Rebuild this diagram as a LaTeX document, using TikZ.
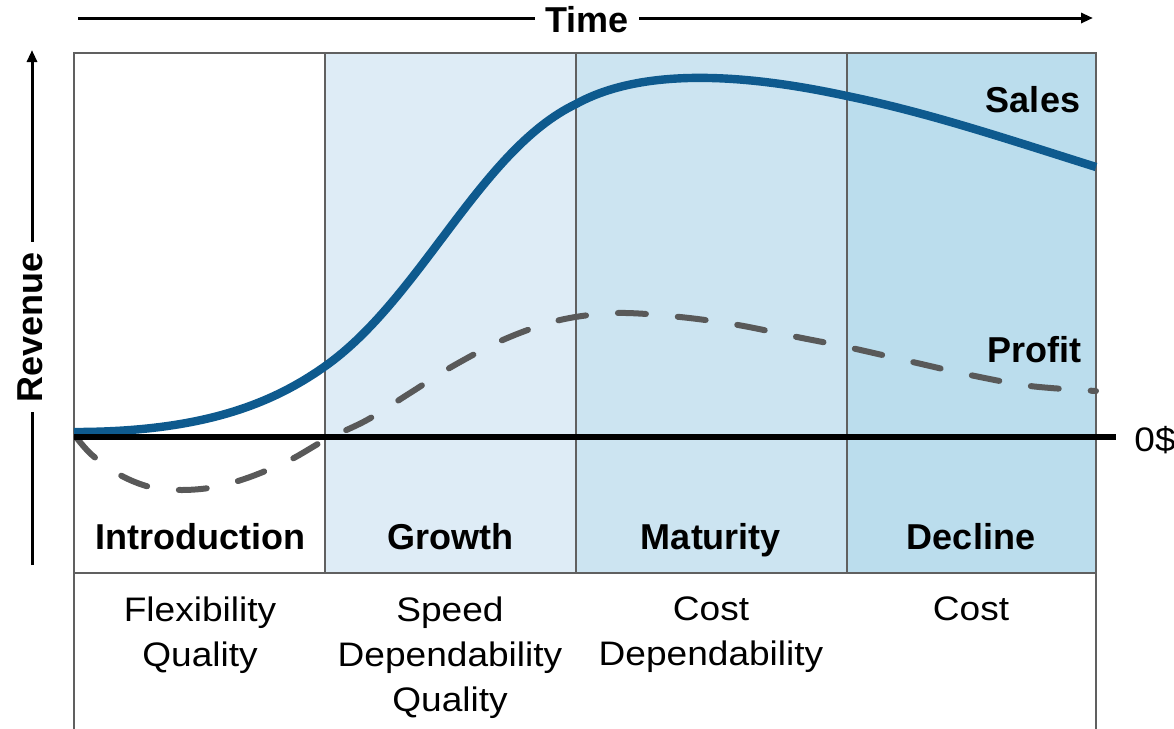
\documentclass[tikz,border=0pt]{standalone}
\usepackage{fontspec}
\setmainfont{Liberation Sans}
\newfontfamily\widesans[FakeStretch=1.09]{Liberation Sans}
\usetikzlibrary{arrows.meta}
\definecolor{salesblue}{RGB}{14,90,142}
\definecolor{profitgray}{RGB}{89,89,89}
\definecolor{framegray}{RGB}{96,96,96}
\definecolor{growthfill}{RGB}{222,236,246}
\definecolor{maturefill}{RGB}{204,228,241}
\definecolor{declinefill}{RGB}{187,221,237}
\tikzset{frame/.style={draw=framegray,line width=1pt},
 stagelbl/.style={font=\bfseries\fontsize{18}{22}\selectfont,anchor=base,inner sep=0pt},
 needlbl/.style={font=\widesans\fontsize{17}{22.5}\selectfont,align=center,anchor=north,inner sep=0pt},
 axislbl/.style={font=\bfseries\fontsize{18}{22}\selectfont,inner sep=5pt},
 axisline/.style={line width=1.5pt},
 axisarrow/.style={line width=1.5pt,-{Triangle[length=6pt,width=5pt]}},
 }

\begin{document}
\begin{tikzpicture}[x=0.5pt,y=-0.5pt]
        \useasboundingbox (0,0) rectangle (1174,729);

        % stage columns
        \fill[growthfill] (325,53) rectangle (576,573);
        \fill[maturefill] (576,53) rectangle (847,573);
        \fill[declinefill] (847,53) rectangle (1096,573);
        \draw[frame] (74,53) rectangle (1096,573);
        \draw[frame] (325,53) -- (325,573);
        \draw[frame] (576,53) -- (576,573);
        \draw[frame] (847,53) -- (847,573);
        \draw[frame] (74,573) -- (74,729);
        \draw[frame] (1096,573) -- (1096,729);

        % curves
        \draw[salesblue,line width=4.2pt] (74,432)
            .. controls (200,432) and (270,405) .. (324,367)
            .. controls (420,300) and (480,150) .. (576,104)
            .. controls (645,66) and (750,75) .. (847,96)
            .. controls (930,113) and (1010,140) .. (1096,167);
        \draw[profitgray,line width=3pt,line cap=round,dash pattern=on 14pt off 16pt] plot[smooth,tension=0.55] coordinates
            {(76,437) (92,455) (120,475) (150,487) (182,490) (215,487) (250,477) (290,460) (325,440) (367,420) (410,393) (453,366) (505,339) (560,320) (617,313) (680,317) (738,325) (797,337) (847,347) (917,363) (970,375) (1030,386) (1096,391)};

        \node[anchor=west,inner sep=0pt,font=\widesans\fontsize{17}{20}\selectfont] (zero) at (1134,440) {0\$};
        \coordinate (zstart) at (74,437);
        \draw[line width=3pt,shorten >=9pt] (zstart) -- (zstart -| zero.west);

        \node[stagelbl] at (1033,112) (sales) {Sales};
        \node[stagelbl] at (1034,362) (profit) {Profit};

        % axes
        \node[axislbl] (timelbl) at (587,20) {Time};
        \coordinate (tleft) at (78,18);
        \coordinate (tright) at (1093,18);
        \draw[axisline] (tleft) -- (tleft -| timelbl.west);
        \draw[axisarrow] (tright -| timelbl.east) -- (tright);

        \node[axislbl,rotate=90] (revlbl) at (30,327) {Revenue};
        \coordinate (rbot) at (32,565);
        \coordinate (rtop) at (32,50);
        \draw[axisline] (rbot) -- (rbot |- revlbl.west);
        \draw[axisarrow] (rtop |- revlbl.east) -- (rtop);

        % stages
        \node[stagelbl] (intro) at (200,549) {Introduction};
        \node[stagelbl] (growth) at (450,549) {Growth};
        \node[stagelbl] (maturity) at (711,549) {Maturity};
        \node[stagelbl] (decline) at (971,549) {Decline};

        \node[needlbl] (introneed) at (200,596) {Flexibility\\Quality};
        \node[needlbl] (growthneed) at (450,596) {Speed\\Dependability\\Quality};
        \node[needlbl] (maturityneed) at (711,596) {Cost\\Dependability};
        \node[needlbl] (declineneed) at (971,596) {Cost};
    \end{tikzpicture}
\end{document}
